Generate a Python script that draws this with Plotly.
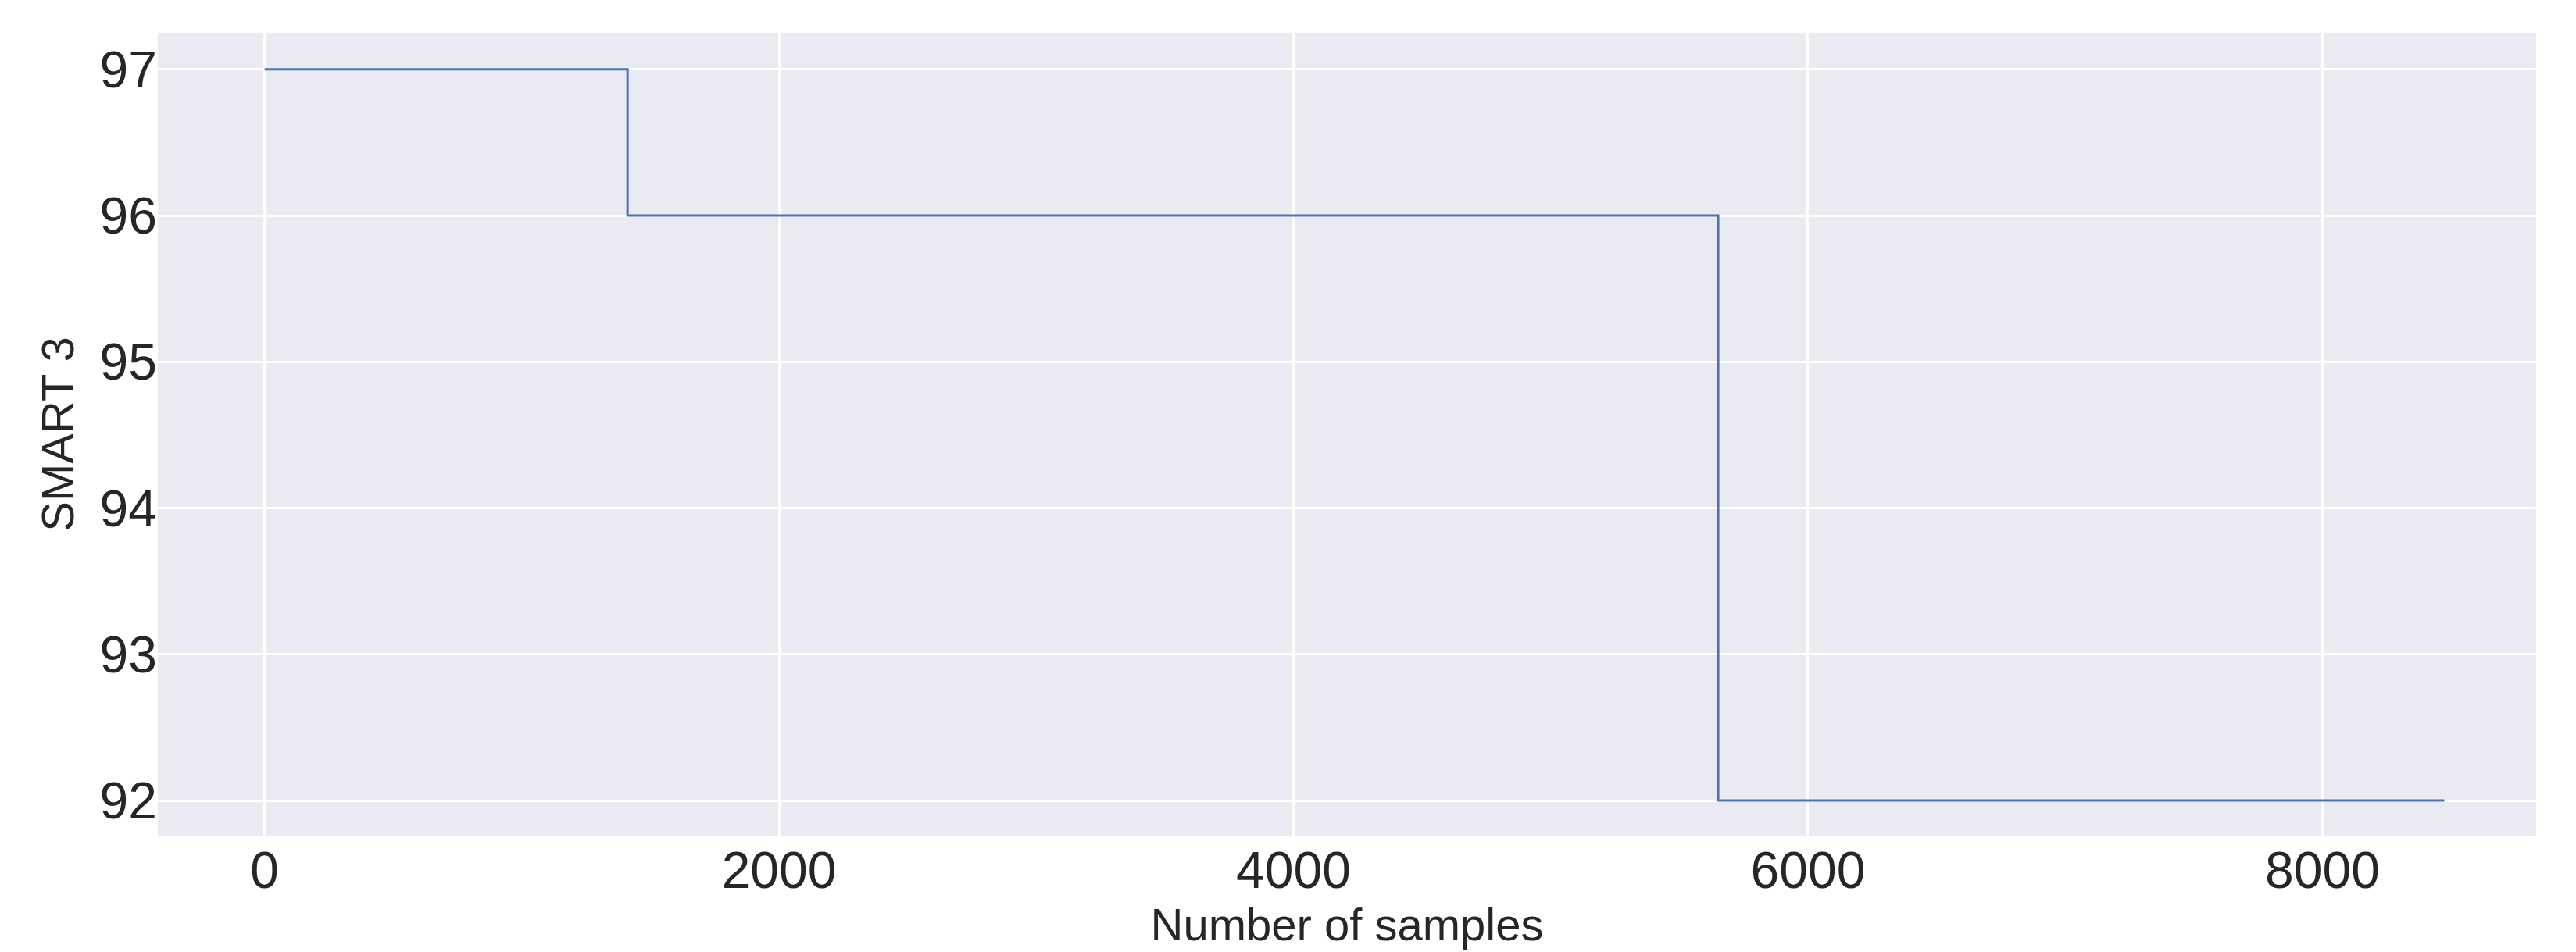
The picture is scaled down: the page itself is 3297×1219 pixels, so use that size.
import plotly.graph_objects as go

# step points of the SMART 3 series
samples = [0, 1411, 1411, 5651, 5651, 8474]
smart3 = [97, 97, 96, 96, 92, 92]

fig = go.Figure(go.Scatter(
    x=samples, y=smart3, mode='lines',
    line=dict(color='#4c72b0', width=3),
))

font = dict(family='Liberation Sans, Arial', size=66, color='#262626')
fig.update_layout(
    width=3297, height=1219,
    paper_bgcolor='white', plot_bgcolor='#eaeaf2',
    margin=dict(l=194, r=59, t=34, b=157),
    showlegend=False,
    font=font,
)
fig.update_xaxes(
    range=[-415, 8831], tickvals=[0, 2000, 4000, 6000, 8000],
    showgrid=True, gridcolor='white', gridwidth=3, zeroline=False,
    title=dict(text='Number of samples', font=dict(size=58), standoff=8),
    ticks='', ticklen=0,
)
fig.update_yaxes(
    range=[91.76, 97.25], tickvals=[92, 93, 94, 95, 96, 97],
    showgrid=True, gridcolor='white', gridwidth=3, zeroline=False,
    title=dict(text='SMART 3', font=dict(size=58), standoff=14),
    ticks='',
)

fig.write_html("out.html")
